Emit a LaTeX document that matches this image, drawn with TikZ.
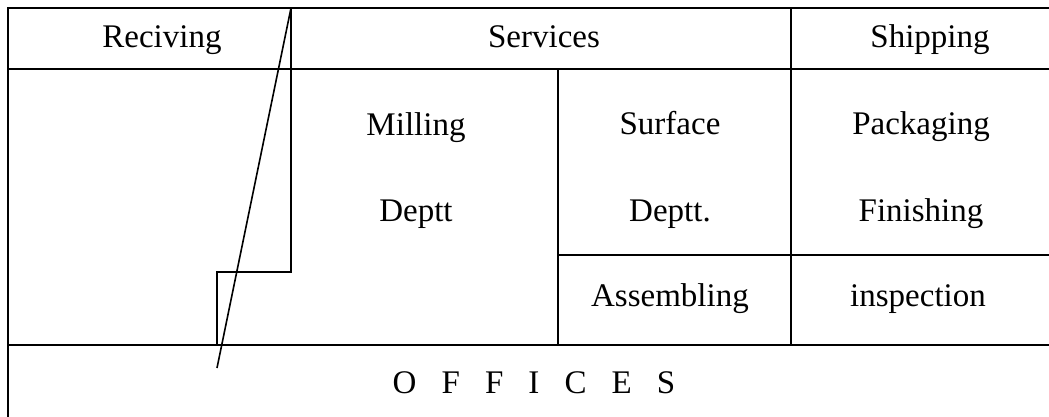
\documentclass[tikz,border=0pt]{standalone}
\usepackage{fontspec}
\setmainfont{Liberation Serif}
\newcommand\lettergap{\hspace{0.76em}}
\begin{document}
\begin{tikzpicture}[x=0.5pt,y=-0.5pt,line width=0.8pt,
  lbl/.style={anchor=base,inner sep=0pt,font=\fontsize{16.5}{20}\selectfont}]
\useasboundingbox (0,0) rectangle (1049,417);
% outer lines
\draw (8,417) -- (8,8) -- (1049,8);
\draw (8,69) -- (1049,69);
\draw (8,345) -- (1049,345);
% receiving wall and the slanted line
\draw (291,8) -- (291,272) -- (217,272) -- (217,345);
\draw (291,8) -- (217,368);
% departments
\draw (558,69) -- (558,345);
\draw (791,8) -- (791,345);
\draw (558,255) -- (1049,255);
% labels
\node[lbl] (reciving) at (162,48) {Reciving};
\node[lbl] (services) at (544,48) {Services};
\node[lbl] (shipping) at (930,48) {Shipping};
\node[lbl] (milling) at (416,135) {Milling};
\node[lbl] (deptt) at (416,221) {Deptt};
\node[lbl] (surface) at (670,134) {Surface};
\node[lbl] (surfdeptt) at (670,221) {Deptt.};
\node[lbl] (assembling) at (670,306) {Assembling};
\node[lbl] (packaging) at (921,134) {Packaging};
\node[lbl] (finishing) at (921,221) {Finishing};
\node[lbl] (inspection) at (918,306) {inspection};
\node[lbl] (offices) at (534,393) {O\lettergap F\lettergap F\lettergap I\lettergap C\lettergap E\lettergap S};
\end{tikzpicture}
\end{document}
